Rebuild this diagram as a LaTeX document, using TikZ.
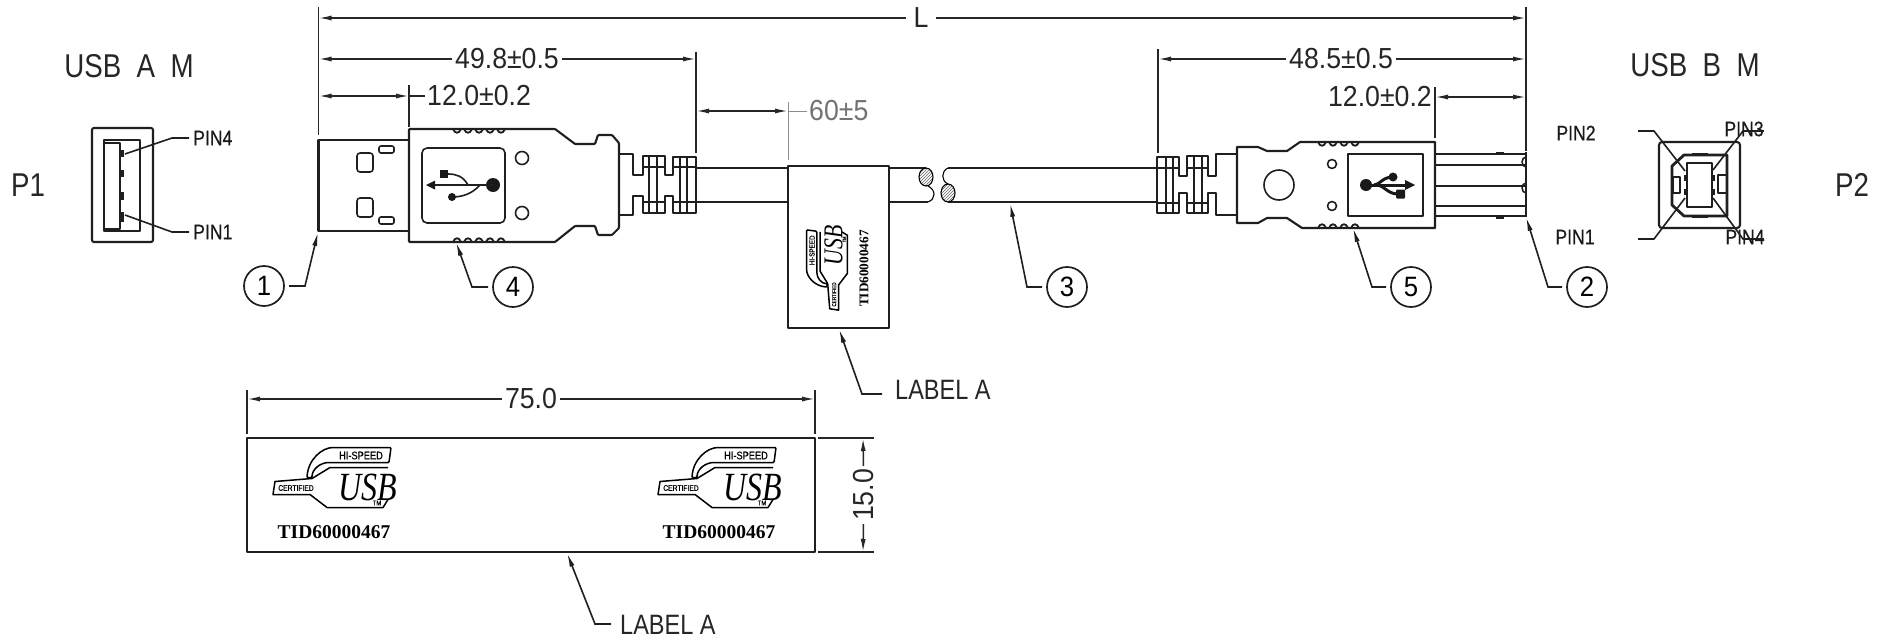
\documentclass[tikz,border=0pt]{standalone}
\usepackage{fontspec}
\usetikzlibrary{arrows.meta,patterns}
\setmainfont{Liberation Sans}
\newfontfamily\cadfont[FakeStretch=0.84]{Liberation Sans}
\newfontfamily\dimfont[FakeStretch=0.92]{Liberation Sans}
\newfontfamily\pinfont[FakeStretch=0.84,FakeBold=0.4]{Liberation Sans}
\newfontfamily\logoserif{Liberation Serif}
\newfontfamily\logousb[FakeStretch=0.8]{Liberation Serif}
\newcommand{\fs}[1]{\fontsize{#1}{#1}\selectfont}
\tikzset{
  outline/.style={line width=2.1pt,line join=round,black!88},
  thin outline/.style={line width=1.6pt,line join=round,black!88},
  dimline/.style={line width=1.5pt,black!85},
  dimarrow/.style={dimline,-{Latex[length=13pt,width=5pt]}},
  dimboth/.style={dimline,{Latex[length=13pt,width=5pt]}-{Latex[length=13pt,width=5pt]}},
  leader/.style={line width=1.6pt,black!88,-{Latex[length=14pt,width=5pt]}},
  dimtext/.style={font=\dimfont\fs{29},inner sep=3pt,text=black!85},
  bigtext/.style={font=\cadfont\fs{33},inner sep=0pt,text=black!85},
  pintext/.style={font=\pinfont\fs{21},inner sep=0pt,text=black!90},
  callout/.style={circle,draw=black!88,line width=1.7pt,minimum size=40pt,inner sep=0pt,outer sep=5pt,font=\dimfont\fs{28}}
}
% scalloped grip: start x, y, count, bump direction
\newcommand{\gripline}[4]{%
  \foreach \k in {0,...,#3}{%
    \draw[line width=1.8pt,black!88] ({#1+\k*11},#2) .. controls ({#1+\k*11+2},{#2+#4}) and ({#1+\k*11+6},{#2+#4}) .. ({#1+\k*11+8},#2);
  }}
% USB logo, local origin at the middle of the mark
\newcommand{\labelmark}{%
  \draw[line width=1.5pt,rounded corners=1pt] (-25,0) .. controls (-24,-18) and (-10,-30) .. (2,-30) -- (59,-30) -- (57,-15) -- (-2,-15) .. controls (-12,-15) and (-20,-8) .. (-20,0) -- cycle;
  \draw[line width=1.5pt,line join=round] (56,-10) -- (-2,-10) -- (-20,1) -- (-57,4) -- (-59,17) -- (-22,17) -- (-5,30) -- (51,30) -- (56,22);
  \node[transform shape,font=\pinfont\fs{11},inner sep=0pt] at (29,-22) {HI-SPEED};
  \node[transform shape,font=\pinfont\fs{8},inner sep=0pt] at (-36,10.5) {CERTIFIED};
  \node[transform shape,font=\logousb\itshape\fs{40},inner sep=0pt] at (36,9.5) {USB};
  \node[transform shape,font=\pinfont\fs{7},inner sep=0pt] at (45,25.5) {TM};
  \node[transform shape,font=\logoserif\bfseries\fs{19.5},inner sep=0pt] at (2,54.5) {TID60000467};
}
\begin{document}
\begin{tikzpicture}[x=1pt,y=-1pt]
\useasboundingbox (0,0) rectangle (1884,640);
\fill[white] (0,0) rectangle (1884,640);

% ---------- USB A end view
\node[bigtext] (tUSBA) at (129,66) {USB\ \ A\ \ M};
\node[bigtext] (tP1) at (28,185) {P1};
\draw[outline,rounded corners=2pt] (92,128) rectangle (153,242);
\draw[outline] (104,140) rectangle (140,231);
\draw[outline] (104,143) rectangle (120,229);
\foreach \a/\b in {150/157,170/177,192/200,212/222}{\fill[black!88] (120,\a) rectangle (124,\b);}
\node[pintext,anchor=west] (tPin4A) at (193,138) {PIN4};
\node[pintext,anchor=west] (tPin1A) at (193,232) {PIN1};
\coordinate (pA4) at (125,154);
\coordinate (pA1) at (125,215);
\draw[thin outline] (tPin4A.west)+(-4,0) -- (172,138) -- (pA4);
\draw[thin outline] (tPin1A.west)+(-4,0) -- (172,232) -- (pA1);

% ---------- plug A
\draw[outline] (318.5,140) rectangle (409,231);
\draw[thin outline,rounded corners=3pt] (357,153) rectangle (373,172);
\draw[thin outline,rounded corners=3pt] (357,198) rectangle (373,217);
\draw[thin outline,rounded corners=2pt] (379,146) rectangle (394,153);
\draw[thin outline,rounded corners=2pt] (379,217) rectangle (394,224);
\draw[outline,rounded corners=0.8pt] (409,129) -- (555,129) -- (575,144) -- (595,144) -- (598,135) -- (612,135) -- (619,143) -- (619,228) -- (612,235) -- (598,235) -- (595,226) -- (575,226) -- (555,242) -- (409,242) -- cycle;
\gripline{453}{129}{4}{5}
\gripline{453}{242}{4}{-5}
\draw[thin outline,rounded corners=5pt] (422,148) rectangle (505,223);
\draw[thin outline] (522,158) circle (6.5);
\draw[thin outline] (522,213) circle (6.5);
% USB trident A
\fill[black!90] (493,185) circle (7);
\draw[thin outline] (493,185) -- (432,185);
\fill[black!90] (426,185) -- (435,180.5) -- (435,189.5) -- cycle;
\draw[thin outline] (468,185) .. controls (463,176) and (456,174) .. (448,174);
\fill[black!90] (440,170) rectangle (448,178);
\draw[thin outline] (480,185) .. controls (472,194) and (462,197) .. (452,197);
\fill[black!90] (452,197) circle (4);
% strain relief A
\draw[outline] (619,154) -- (633,154) -- (633,175) -- (643,175) -- (643,156) -- (665,156) -- (665,175) -- (673,175) -- (673,157) -- (696,157) -- (696,213) -- (673,213) -- (673,196) -- (665,196) -- (665,213) -- (643,213) -- (643,196) -- (633,196) -- (633,215) -- (619,215);
\foreach \x in {649,657,680,687}{\draw[thin outline] (\x,156) -- (\x,213);}
\foreach \a/\b in {643/665,673/696}{\draw[thin outline] (\a,167) -- (\b,167);\draw[thin outline] (\a,202) -- (\b,202);}

% ---------- cable
\draw[outline] (696,168) -- (788,168);
\draw[outline] (696,202) -- (788,202);
\draw[outline] (889,168) -- (926,168);
\draw[outline] (889,202) -- (928,202);
\draw[outline] (948,168) -- (1157,168);
\draw[outline] (948,202) -- (1157,202);
\draw[line width=1.1pt,pattern=north east lines,pattern color=black!60] (926,177) ellipse (7 and 9);
\draw[line width=1.1pt,pattern=north east lines,pattern color=black!60] (948,193) ellipse (7 and 9);
\draw[line width=1.1pt] (928,186) .. controls (936,190) and (936,199) .. (928,202);
\draw[line width=1.1pt] (948,168) .. controls (941,171) and (941,181) .. (948,184);

% ---------- label on the cable
\draw[outline,fill=white] (788,166) rectangle (889,328);
\begin{scope}[shift={(827,270)},rotate=90,scale=0.68]
\labelmark
\end{scope}

% ---------- plug B strain relief
\draw[outline] (1237,154) -- (1216,154) -- (1216,176) -- (1208,176) -- (1208,156) -- (1187,156) -- (1187,176) -- (1179,176) -- (1179,157) -- (1157,157) -- (1157,213) -- (1179,213) -- (1179,193) -- (1187,193) -- (1187,213) -- (1208,213) -- (1208,193) -- (1216,193) -- (1216,215) -- (1237,215);
\foreach \x in {1166,1173,1194,1202}{\draw[thin outline] (\x,157) -- (\x,213);}
\foreach \a/\b in {1157/1179,1187/1208}{\draw[thin outline] (\a,168) -- (\b,168);\draw[thin outline] (\a,203) -- (\b,203);}
% body B
\draw[outline] (1237,147) -- (1258,147) -- (1267,151) -- (1287,151) -- (1300,142) -- (1435,142) -- (1435,228) -- (1302,228) -- (1287,218) -- (1267,218) -- (1258,223) -- (1237,223) -- cycle;
\gripline{1318}{142}{3}{5}
\gripline{1318}{228}{3}{-5}
\draw[thin outline] (1279,185) circle (15);
\draw[thin outline] (1332,164) circle (4.5);
\draw[thin outline] (1332,206) circle (4.5);
\draw[thin outline] (1348,154) rectangle (1423,216);
% USB trident B
\fill[black!90] (1366,185) circle (6);
\draw[line width=3pt,black!90] (1366,185) -- (1408,185);
\fill[black!90] (1415,185) -- (1405,180) -- (1405,190) -- cycle;
\draw[line width=3pt,black!90] (1374,185) .. controls (1380,185) and (1382,177) .. (1393,177);
\fill[black!90] (1393,177) circle (4.5);
\draw[line width=3pt,black!90] (1378,185) .. controls (1384,186) and (1388,194) .. (1398,194);
\fill[black!90,rounded corners=1pt] (1396,189.5) rectangle (1405,198.5);
% metal shell B
\foreach \y in {154,165,186,206,216}{\draw[thin outline] (1435,\y) -- (1526,\y);}
\draw[outline] (1526,152) -- (1526,217);
\fill[black!88] (1496,151.5) rectangle (1504,155);
\fill[black!88] (1496,215) rectangle (1504,218.5);
\draw[thin outline] (1526,167) arc (90:270:4 and 5);
\draw[thin outline] (1526,193) arc (90:270:4 and 5);

% ---------- USB B end view
\node[bigtext] (tUSBB) at (1695,65) {USB\ \ B\ \ M};
\node[bigtext] (tP2) at (1852,185) {P2};
\draw[outline,rounded corners=3pt] (1659,142) rectangle (1740,228);
\draw[line width=2.8pt,line join=round,black!88] (1684,155) -- (1727,155) -- (1727,216) -- (1684,216) -- (1672,205) -- (1672,166) -- cycle;
\draw[thin outline] (1687,163) rectangle (1712,207);
\draw[thin outline] (1673,177) rectangle (1680,193);
\draw[thin outline] (1718,175) rectangle (1727,193);
\foreach \x in {1684,1712}{\foreach \y in {175,189}{\fill[black!88] (\x,\y) rectangle (\x+3,\y+6);}}
\fill[black!88] (1692,153) rectangle (1708,156);
\fill[black!88] (1692,215) rectangle (1708,218);
\node[pintext] (tPin2B) at (1576,133) {PIN2};
\node[pintext] (tPin1B) at (1575,237) {PIN1};
\node[pintext] (tPin3B) at (1744,129) {PIN3};
\node[pintext] (tPin4B) at (1745,237) {PIN4};
\coordinate (pB2) at (1685,171);
\coordinate (pB1) at (1685,198);
\coordinate (pB3) at (1713,170);
\coordinate (pB4) at (1713,198);
\draw[thin outline] (1638,131) -- (1654,131) -- (pB2);
\draw[thin outline] (1638,239) -- (1654,239) -- (pB1);
\draw[thin outline] (tPin3B.east)+(0,2) -- (1743,131) -- (pB3);
\draw[thin outline] (tPin4B.east)+(-1,2) -- (1743,239) -- (pB4);

% ---------- extension lines
\coordinate (xL) at (318.5,18);
\coordinate (xR) at (1526,18);
\draw[dimline] (318.5,7) -- (318.5,135);
\draw[dimline] (1526,7) -- (1526,151);
\draw[dimline] (409,85) -- (409,127);
\draw[dimline] (696,52) -- (696,153);
\draw[line width=1pt,black!45] (788,102) -- (788,160);
\draw[dimline] (1158,49) -- (1158,153);
\draw[dimline] (1435,87) -- (1435,138);

% ---------- dimensions
\node[dimtext,inner sep=7pt] (dL) at (921,18) {L};
\draw[dimarrow] (dL) -- (xL);
\draw[dimarrow] (dL) -- (xR);

\coordinate (a1) at (318.5,59);
\coordinate (a2) at (696,59);
\node[dimtext] (d498) at (507,59) {49.8±0.5};
\draw[dimarrow] (d498) -- (a1);
\draw[dimarrow] (d498) -- (a2);

\coordinate (b1) at (318.5,96);
\coordinate (b2) at (409,96);
\node[dimtext,anchor=west,inner sep=2pt] (d120a) at (425,96) {12.0±0.2};
\draw[dimboth] (b1) -- (b2);
\draw[dimline] (b2) -- (d120a.west);

\coordinate (c1) at (696,111);
\coordinate (c2) at (788,111);
\node[dimtext,anchor=west,text=black!55,inner sep=2pt] (d60) at (807,111) {60±5};
\draw[dimboth] (c1) -- (c2);
\draw[line width=1pt,black!45] (c2) -- (d60.west);

\coordinate (e1) at (1158,59);
\coordinate (e2) at (1526,59);
\node[dimtext] (d485) at (1341,59) {48.5±0.5};
\draw[dimarrow] (d485) -- (e1);
\draw[dimarrow] (d485) -- (e2);

\coordinate (f1) at (1435,97);
\coordinate (f2) at (1526,97);
\node[dimtext,anchor=east,inner sep=2pt] (d120b) at (1434,97) {12.0±0.2};
\draw[dimboth] (f1) -- (f2);

% ---------- long label
\draw[outline] (247,438) rectangle (815,552);
\begin{scope}[shift={(332,477.5)}]
\labelmark
\end{scope}
\begin{scope}[shift={(717,477.5)}]
\labelmark
\end{scope}
\draw[dimline] (247,390) -- (247,434);
\draw[dimline] (815,390) -- (815,434);
\coordinate (g1) at (247,399);
\coordinate (g2) at (815,399);
\node[dimtext] (d75) at (531,399) {75.0};
\draw[dimarrow] (d75) -- (g1);
\draw[dimarrow] (d75) -- (g2);
\draw[dimline] (818,438) -- (874,438);
\draw[dimline] (818,552) -- (874,552);
\coordinate (h1) at (863,438);
\coordinate (h2) at (863,552);
\node[dimtext,rotate=90] (d15) at (864,495) {15.0};
\draw[dimarrow] (d15) -- (h1);
\draw[dimarrow] (d15) -- (h2);

% ---------- callouts
\node[callout] (n1) at (264,286) {1};
\node[callout] (n4) at (513,287) {4};
\node[callout] (n3) at (1067,287) {3};
\node[callout] (n5) at (1411,287) {5};
\node[callout] (n2) at (1587,287) {2};
\coordinate (t1) at (318,232);
\coordinate (t4) at (456,242);
\coordinate (t3) at (1010,203);
\coordinate (t5) at (1353,228);
\coordinate (t2) at (1526,217);
\draw[leader] (n1.east) -- (305,286) -- (t1);
\draw[leader] (n4.west) -- (472,287) -- (t4);
\draw[leader] (n3.west) -- (1027,287) -- (t3);
\draw[leader] (n5.west) -- (1372,287) -- (t5);
\draw[leader] (n2.west) -- (1548,287) -- (t2);

\node[bigtext,font=\cadfont\fs{28},anchor=west] (la1) at (895,390) {LABEL\ A};
\node[bigtext,font=\cadfont\fs{28},anchor=west] (la2) at (620,625) {LABEL\ A};
\coordinate (t6) at (839,329);
\coordinate (t7) at (567,553);
\draw[leader] (882,394) -- (862,394) -- (t6);
\draw[leader] (611,624) -- (595,624) -- (t7);
\end{tikzpicture}
\end{document}
